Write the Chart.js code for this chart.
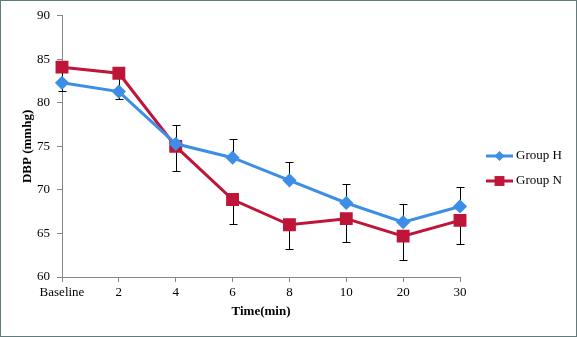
<!DOCTYPE html>
<html>
<head>
<meta charset="utf-8">
<script src="https://cdn.jsdelivr.net/npm/chart.js@4"></script>
<style>
  body { margin: 0; background: #fff; }
  .frame { width: 577px; height: 337px; box-sizing: border-box; border: 1px solid #5f7b7b; }
  canvas { display: block; }
</style>
</head>
<body>
<div class="frame"><canvas id="dbp-chart" width="575" height="335"></canvas></div>
<script>
// data
let timeLabels = ["Baseline", "2", "4", "6", "8", "10", "20", "30"];
let groupH = [82.3, 81.3, 75.3, 73.7, 71.1, 68.5, 66.3, 68.1];
let groupN = [84.1, 83.4, 75.0, 68.9, 66.0, 66.7, 64.7, 66.5];
// blue bars go up, red bars go down
let groupHErr = [2.2, 2.2, 2.2, 2.2, 2.1, 2.2, 2.1, 2.2];
let groupNErr = [2.7, 2.9, 2.8, 2.8, 2.8, 2.7, 2.8, 2.7];
let yTicks = [60, 65, 70, 75, 80, 85, 90];

let blue = "#3d8ee6";
let red = "#be1538";
let axisGray = "#868686";

Chart.defaults.font.family = "'Liberation Serif', 'Times New Roman', serif";
Chart.defaults.font.size = 13;
Chart.defaults.color = "#000";

// error bars, drawn under the lines
const errorBars = {
  id: "errorBars",
  beforeDatasetsDraw(chart) {
    const ctx = chart.ctx;
    const y = chart.scales.y;
    const sets = [[groupH, groupHErr, 1, 0], [groupN, groupNErr, -1, 1]];
    ctx.save();
    ctx.strokeStyle = "#000";
    ctx.lineWidth = 1;
    sets.forEach(([vals, errs, dir, idx]) => {
      const meta = chart.getDatasetMeta(idx);
      vals.forEach((v, i) => {
        const px = Math.round(meta.data[i].x) + 0.5;
        const y0 = y.getPixelForValue(v);
        const y1 = Math.round(y.getPixelForValue(v + dir * errs[i])) + 0.5;
        ctx.beginPath();
        ctx.moveTo(px, y0);
        ctx.lineTo(px, y1);
        ctx.moveTo(px - 4, y1);
        ctx.lineTo(px + 4, y1);
        ctx.stroke();
      });
    });
    ctx.restore();
  }
};

// legend with line + marker like the original
const sideLegend = {
  id: "sideLegend",
  afterDraw(chart) {
    const ctx = chart.ctx;
    ctx.save();
    chart.data.datasets.forEach((ds, i) => {
      const cy = 155 + i * 25;
      ctx.strokeStyle = ds.borderColor;
      ctx.lineWidth = 3;
      ctx.beginPath();
      ctx.moveTo(485, cy);
      ctx.lineTo(512, cy);
      ctx.stroke();
      ctx.fillStyle = ds.pointBackgroundColor;
      Chart.helpers.drawPoint(ctx, {
        pointStyle: ds.pointStyle,
        radius: ds.pointRadius,
        borderWidth: 0
      }, 498.5, cy);
      ctx.fillStyle = "#000";
      ctx.font = "13px 'Liberation Serif', serif";
      ctx.textBaseline = "middle";
      ctx.fillText(ds.label, 515, cy);
    });
    ctx.restore();
  }
};

new Chart("dbp-chart", {
  type: "line",
  data: {
    labels: timeLabels,
    datasets: [{
      label: "Group H",
      data: groupH,
      borderColor: blue,
      backgroundColor: blue,
      pointBackgroundColor: blue,
      pointBorderColor: blue,
      pointStyle: "rectRot",
      pointRadius: 5,
      borderWidth: 3,
      tension: 0
    }, {
      label: "Group N",
      data: groupN,
      borderColor: red,
      backgroundColor: red,
      pointBackgroundColor: red,
      pointBorderColor: red,
      pointStyle: "rect",
      pointRadius: 7,
      borderWidth: 3,
      tension: 0
    }]
  },
  options: {
    responsive: false,
    animation: false,
    layout: {
      padding: { top: 14, right: 116, bottom: 0, left: 0 }
    },
    plugins: {
      legend: { display: false },
      tooltip: { enabled: false }
    },
    scales: {
      x: {
        offset: false,
        grid: { display: true, drawOnChartArea: false, tickLength: 5, color: axisGray },
        border: { color: axisGray },
        ticks: { padding: 3, maxRotation: 0 },
        title: {
          display: true,
          text: "Time(min)",
          font: { weight: "bold", size: 13 },
          padding: { top: 4, bottom: 17 }
        },
        afterFit: (scale) => { scale.height = 59; }
      },
      y: {
        min: 60,
        max: 90,
        afterBuildTicks: (scale) => { scale.ticks = yTicks.map(v => ({ value: v })); },
        grid: { display: true, drawOnChartArea: false, tickLength: 5, color: axisGray },
        border: { color: axisGray },
        ticks: { padding: 7 },
        title: {
          display: true,
          text: "DBP (mmhg)",
          font: { weight: "bold", size: 13 },
          padding: { top: 19, bottom: 4 }
        },
        afterFit: (scale) => { scale.width = 61; }
      }
    }
  },
  plugins: [errorBars, sideLegend]
});
</script>
</body>
</html>
